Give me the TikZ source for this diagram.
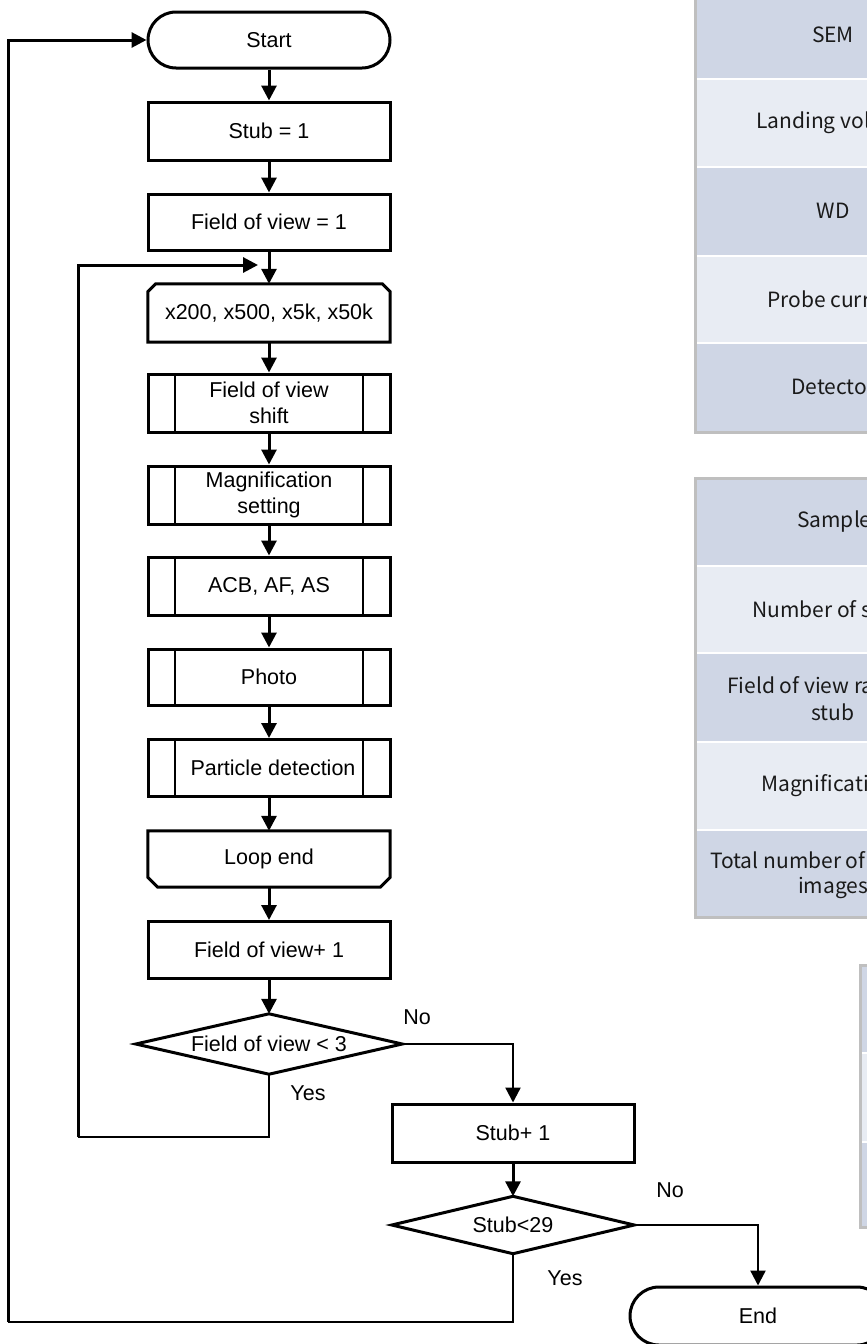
\documentclass[tikz,border=0pt]{standalone}
\usepackage{fontspec}
\setmainfont{Liberation Sans}
\newfontfamily\tabfont{Noto Sans CJK JP}
\usetikzlibrary{arrows.meta}
\definecolor{rowdark}{HTML}{CFD6E5}
\definecolor{rowlight}{HTML}{E8ECF3}
\definecolor{tabborder}{HTML}{BFBFBF}
\definecolor{tabtext}{HTML}{1A1A1A}
\begin{document}
\begin{tikzpicture}[x=1pt,y=-1pt,
  flowtext/.style={font=\fontsize{21.5}{26}\selectfont, align=center, inner sep=0pt},
  box/.style={flowtext, draw=black, line width=3pt, fill=white, minimum width=242pt, minimum height=58pt},
  plain/.style={flowtext, minimum width=242pt, minimum height=58pt},
  term/.style={box, rounded corners=28pt, minimum height=56pt},
  predef/.style={box, path picture={
      \draw[line width=2pt] ([xshift=27pt]path picture bounding box.north west) -- ([xshift=27pt]path picture bounding box.south west);
      \draw[line width=2pt] ([xshift=-27pt]path picture bounding box.north east) -- ([xshift=-27pt]path picture bounding box.south east);}},
  decide/.style={flowtext, minimum height=60pt},
  bord/.style={draw=black, line width=3pt, line join=miter, fill=white},
  arr/.style={draw=black, line width=3pt, -{Triangle[length=15pt,width=15pt]}},
  thinarr/.style={draw=black, line width=2.3pt, -{Triangle[length=15pt,width=15pt]}},
  lbl/.style={font=\fontsize{21.5}{26}\selectfont, inner sep=0pt},
  ttext/.style={font=\tabfont\fontsize{21}{27}\selectfont, text=tabtext, inner sep=0pt, align=center},
  tborder/.style={draw=tabborder, line width=3pt},
  divider/.style={draw=white, line width=2.5pt}
]
\useasboundingbox (0,0) rectangle (867,1344);
\clip (0,0) rectangle (867,1344);
\fill[white] (0,0) rectangle (867,1344);

% ---------- tables ----------
% table 1
\fill[rowdark]  (695,-9)  rectangle (990,79);
\fill[rowlight] (695,79)  rectangle (990,167);
\fill[rowdark]  (695,167) rectangle (990,256);
\fill[rowlight] (695,256) rectangle (990,343);
\fill[rowdark]  (695,343) rectangle (990,432);
\foreach \yy in {79,167,256,343} \draw[divider] (697,\yy) -- (990,\yy);
\draw[tborder] (695,-9) -- (695,432) -- (990,432);
\node[ttext] (t1a) at (833,35) {SEM};
\node[ttext, anchor=west] (t1b) at (756,123) {Landing vol};
\node[ttext] (t1c) at (833,211) {WD};
\node[ttext, anchor=west] (t1d) at (767,299) {Probe curr};
\node[ttext, anchor=west] (t1e) at (791,387) {Detecto};
% table 2
\fill[rowdark]  (695,478) rectangle (990,566);
\fill[rowlight] (695,566) rectangle (990,653);
\fill[rowdark]  (695,653) rectangle (990,742);
\fill[rowlight] (695,742) rectangle (990,830);
\fill[rowdark]  (695,830) rectangle (990,917);
\foreach \yy in {566,653,742,830} \draw[divider] (697,\yy) -- (990,\yy);
\draw[tborder] (990,478) -- (695,478) -- (695,917) -- (990,917);
\node[ttext, anchor=west] (t2a) at (797,522) {Sample};
\node[ttext, anchor=west] (t2b) at (752,609) {Number of s};
\node[ttext, anchor=west] (t2c) at (727,685) {Field of view ra};
\node[ttext] (t2d) at (833,712) {stub};
\node[ttext, anchor=west] (t2e) at (761,786) {Magnificati};
\node[ttext, anchor=west] (t2f) at (710,860) {Total number of};
\node[ttext, anchor=west] (t2g) at (798,888) {images};
% table 3
\fill[rowdark]  (860,965)  rectangle (990,1053);
\fill[rowlight] (860,1053) rectangle (990,1142);
\fill[rowdark]  (860,1142) rectangle (990,1227);
\foreach \yy in {1053,1142} \draw[divider] (862,\yy) -- (990,\yy);
\draw[tborder] (990,965) -- (860,965) -- (860,1227) -- (990,1227);

% ---------- flowchart nodes ----------
\node[term] (start) at (269,40) {Start};
\node[box] (stub1) at (269,131) {Stub = 1};
\node[box, minimum height=56pt] (fov1) at (269,222) {Field of view = 1};
\node[plain] (mags) at (269,313) {};
\draw[bord] ([xshift=8pt]mags.north west) -- ([xshift=-8pt]mags.north east) -- ([yshift=-8pt]mags.north east) -- (mags.south east) -- (mags.south west) -- ([yshift=-8pt]mags.north west) -- cycle;
\node at (mags) [flowtext] {x200, x500, x5k, x50k};
\node[predef] (shift) at (269,403) {Field of view\\shift};
\node[predef] (magset) at (269,495) {Magnification\\setting};
\node[predef] (acb) at (269,586) {ACB, AF, AS};
\node[predef, minimum height=56pt] (photo) at (269,677) {Photo};
\node[predef, minimum height=57pt] (particle) at (269,768) {\hspace*{8pt}Particle detection};
\node[plain, minimum height=56pt] (loopend) at (269,859) {};
\draw[bord] (loopend.north west) -- (loopend.north east) -- ([yshift=10pt]loopend.south east) -- ([xshift=-10pt]loopend.south east) -- ([xshift=10pt]loopend.south west) -- ([yshift=10pt]loopend.south west) -- cycle;
\node at (loopend) [flowtext] {Loop end};
\node[box, minimum height=57pt] (fovp) at (269,950) {Field of view+ 1};
\node[decide, minimum width=266pt] (dec1) at (269,1044) {};
\draw[bord] (dec1.north) -- (dec1.east) -- (dec1.south) -- (dec1.west) -- cycle;
\node at (dec1) [flowtext] {Field of view < 3};
\node[box] (stubp) at (513,1133) {Stub+ 1};
\node[decide, minimum width=242pt, minimum height=57pt] (dec2) at (513,1225) {};
\draw[bord] (dec2.north) -- (dec2.east) -- (dec2.south) -- (dec2.west) -- cycle;
\node at (dec2) [flowtext] {Stub<29};
\node[term, minimum width=256pt, minimum height=58pt, rounded corners=29pt] (end) at (758,1316) {End};

% ---------- labels ----------
\node[lbl] (no1) at (417,1017) {No};
\node[lbl] (yes1) at (308,1093) {Yes};
\node[lbl] (no2) at (670,1190) {No};
\node[lbl] (yes2) at (565,1278) {Yes};

% ---------- connectors ----------
\draw[arr] (start.south) -- (stub1.north);
\draw[arr] (stub1.south) -- (fov1.north);
\draw[arr] (fov1.south) -- (mags.north);
\draw[arr] (mags.south) -- (shift.north);
\draw[arr] (shift.south) -- (magset.north);
\draw[arr] (magset.south) -- (acb.north);
\draw[arr] (acb.south) -- (photo.north);
\draw[arr] (photo.south) -- (particle.north);
\draw[arr] (particle.south) -- (loopend.north);
\draw[arr] (loopend.south) -- (fovp.north);
\draw[arr] (fovp.south) -- (dec1.north);
\draw[thinarr] (dec1.east) -| (stubp.north);
\draw[arr] (stubp.south) -- (dec2.north);
\draw[thinarr] (dec2.east) -| (end.north);

\coordinate (lpA) at (78,1137);
\coordinate (lpB) at (78,265);
\coordinate (lpIn) at (258,265);
\draw[draw=black, line width=2.3pt] (dec1.south) |- (lpA);
\draw[arr] (lpA) -- (lpB) -- (lpIn);

\coordinate (spA) at (8,1322);
\draw[draw=black, line width=2.3pt] (dec2.south) |- (spA);
\draw[arr] (spA) |- (start.west);
\end{tikzpicture}
\end{document}
